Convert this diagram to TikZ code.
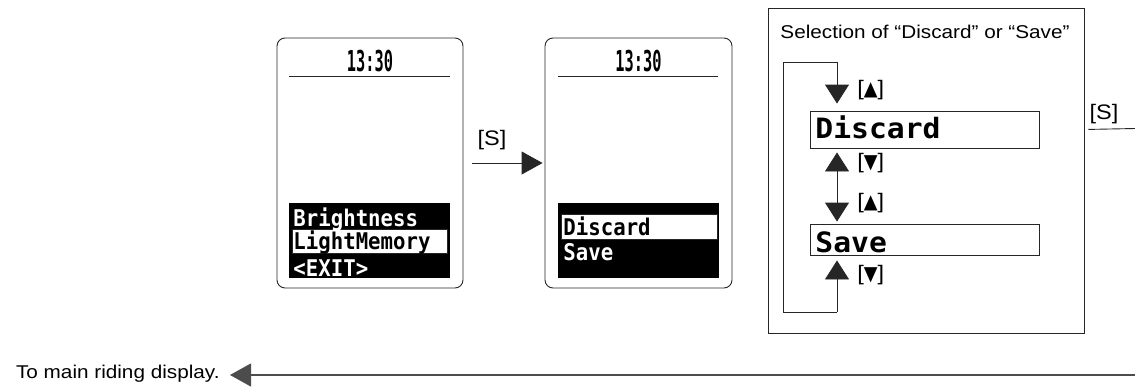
\documentclass[tikz,border=0pt]{standalone}
\usepackage{fontspec}
\usepackage{graphicx}
\setmainfont{Liberation Sans}[FakeStretch=1.12]
\newfontfamily\lcdfont{DejaVu Sans Mono}[FakeStretch=0.9]
\newfontfamily\biglcdfont{DejaVu Sans Mono}[FakeStretch=1.06]
\newfontfamily\clockfont{DejaVu Sans Mono}[FakeStretch=0.85]
\newfontfamily\symfont{DejaVu Sans}
\usetikzlibrary{arrows.meta}
\newcommand{\upkey}{[{\symfont\scalebox{0.85}[0.95]{▲}}]}
\newcommand{\dnkey}{[{\symfont\scalebox{0.85}[0.95]{▼}}]}
\tikzset{
  lbl/.style={font=\fontsize{18.5}{22}\selectfont, inner sep=0pt},
  keylbl/.style={font=\fontsize{21}{24}\selectfont, inner sep=0pt},
  lcd/.style={font=\lcdfont\bfseries\fontsize{23}{26}\selectfont, inner sep=0pt, anchor=base west},
  biglcd/.style={font=\biglcdfont\bfseries\fontsize{28}{32}\selectfont, inner sep=0pt, anchor=base west},
  clock/.style={font=\clockfont\bfseries\fontsize{18}{20}\selectfont, inner sep=0pt},
  screen/.style={draw, rounded corners=8pt, line width=0.9pt, inner sep=0pt},
  bigarrow/.style={-{Triangle[length=21pt,width=23pt]}},
  keyarrow/.style={-{Triangle[length=19pt,width=24pt]}},
}
\begin{document}
\begin{tikzpicture}[x=1pt,y=-1pt,line width=0.9pt,draw=black!85]
  \useasboundingbox (0,0) rectangle (1135,389);

  % first screen
  \node[screen, minimum width=186pt, minimum height=250pt] (scrA) at (370,163) {};
  \node[clock] (timeA) at (370,61) {\scalebox{1}[1.6]{13:30}};
  \draw (289,76) -- (450,76);
  \fill (289,203) rectangle (450,278);
  \draw[fill=white, line width=0.8pt] (292,229) rectangle (447,253);
  \node[lcd, text=white] (brt) at (293,226) {Brightness};
  \node[lcd] (lmem) at (293,249) {LightMemory};
  \node[lcd, text=white] (exit) at (293,276) {<EXIT>};

  % second screen
  \node[screen, minimum width=187pt, minimum height=250pt] (scrB) at (638.5,163) {};
  \node[clock] (timeB) at (638.5,61) {\scalebox{1}[1.6]{13:30}};
  \draw (558,76) -- (718,76);
  \fill (558,203) rectangle (719,278);
  \draw[fill=white, line width=0.8pt] (561,214) rectangle (717,239);
  \node[lcd] (dscB) at (563,235) {Discard};
  \node[lcd, text=white] (savB) at (563,260) {Save};

  \draw[bigarrow, shorten <=9pt, shorten >=2pt] (scrA) -- (scrB);
  \node[keylbl] (keyS) at (492,140) {[S]};

  % selection frame
  \node[draw, inner sep=0pt, minimum width=316pt, minimum height=325pt] (frame) at (926,170.5) {};
  \node[lbl] (title) at (925,32) {Selection of “Discard” or “Save”};
  \node[draw, inner sep=0pt, minimum width=229pt, minimum height=37pt] (dbox) at (924.5,129.5) {};
  \node[draw, inner sep=0pt, minimum width=229pt, minimum height=31pt] (sbox) at (924.5,239.5) {};
  \node[biglcd] (dsc) at (815,138) {Discard};
  \node[biglcd] (sav) at (815,252) {Save};

  \coordinate (loopTop) at (837,62);
  \coordinate (loopTL) at (783,62);
  \coordinate (loopBL) at (783,312);
  \coordinate (loopBot) at (837,312);
  \draw[keyarrow, shorten >=5pt] (loopBot) -- (loopBot |- sbox.south);
  \draw[keyarrow, shorten >=7pt] (loopBot) -- (loopBL) -- (loopTL) -- (loopTop) -- (loopTop |- dbox.north);
  \draw[keyarrow, shorten >=2pt] (loopTop |- 0,188) -- (loopTop |- sbox.north);
  \draw[keyarrow, shorten >=4pt] (loopTop |- 0,188) -- (loopTop |- dbox.south);

  \node[keylbl, anchor=west] (upA) at (857,90) {\upkey};
  \node[keylbl, anchor=west] (dnA) at (857,163) {\dnkey};
  \node[keylbl, anchor=west] (upB) at (857,203) {\upkey};
  \node[keylbl, anchor=west] (dnB) at (857,275) {\dnkey};

  % exit to the right and back
  \coordinate (rEdge) at (1135,128.5);
  \draw[shorten <=4pt] (dbox -| frame.east) -- (rEdge);
  \node[keylbl] (keyS2) at (1104,114) {[S]};

  \node[lbl, anchor=east] (ret) at (220,374) {To main riding display.};
  \coordinate (btmR) at (1135,375);
  \draw[bigarrow, line width=1.2pt, draw=black!70, shorten >=10pt] (btmR) -- (ret.east |- btmR);
\end{tikzpicture}
\end{document}
